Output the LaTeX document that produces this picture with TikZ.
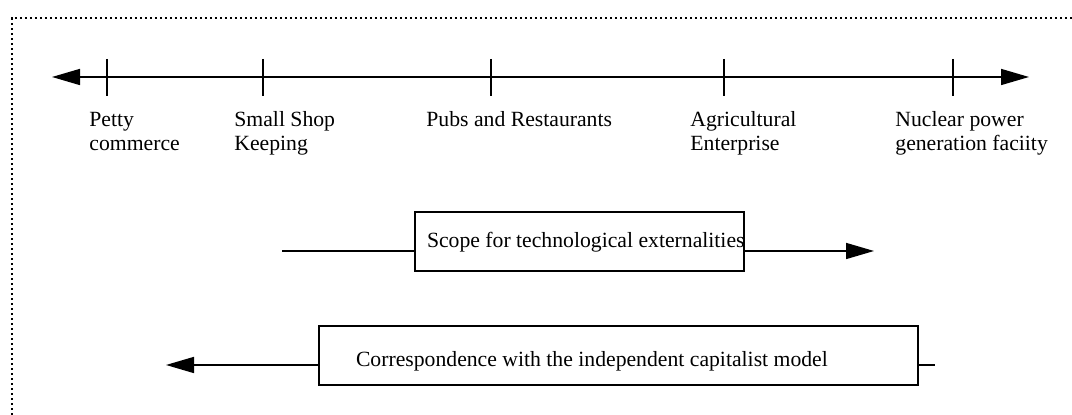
\documentclass[tikz,border=0pt]{standalone}
\usepackage{fontspec}
\setmainfont{Liberation Serif}
\usetikzlibrary{arrows.meta}
\begin{document}
\begin{tikzpicture}[x=0.5pt,y=-0.5pt,
  every node/.style={font=\fontsize{10.85}{12}\selectfont},
  lbl/.style={inner sep=0pt,anchor=base west,align=left},
  boxed/.style={draw,line width=1pt,anchor=north west,inner ysep=0pt},
  head/.style={-{Triangle[length=14pt,width=8pt]}},
  thinline/.style={line width=0.8pt},
  tick/.style={line width=1pt},
  frame/.style={line width=1.1pt,dash pattern=on 1.1pt off 1.4pt}]
\useasboundingbox (0,0) rectangle (1072,415);
\clip (0,0) rectangle (1072,415);
% dotted frame (only top and left visible)
\coordinate (fTL) at (12,18);
\coordinate (fTR) at (1080,18);
\coordinate (fBL) at (12,420);
\draw[frame] (fBL) -- (fTL) -- (fTR);
% axis
\coordinate (aL) at (52,77);
\coordinate (aR) at (1029,77);
\draw[thinline,{Triangle[length=14pt,width=8pt]}-{Triangle[length=14pt,width=8pt]}] (aL) -- (aR);
\foreach \x/\n in {107/1,263/2,491/3,724/4,953/5}{
  \coordinate (t\n a) at (\x,59);
  \coordinate (t\n b) at (\x,96);
  \draw[tick] (t\n a) -- (t\n b);
}
% labels (multi-line nodes: base = baseline of last line)
\node[lbl] (petty) at (89,151) {Petty\\commerce};
\node[lbl] (shop) at (234,151) {Small Shop\\Keeping};
\node[lbl] (pubs) at (426,127) {Pubs and Restaurants};
\node[lbl] (agri) at (690,151) {Agricultural\\Enterprise};
\node[lbl] (nuc) at (895,151) {Nuclear power\\generation faciity};
% scope box
\node[boxed,inner xsep=6pt,text height=18pt,text depth=11.5pt] (scope) at (414,211)
  {\makebox[152.5pt][l]{Scope for technological externalities}};
\coordinate (sA) at (282,251);
\coordinate (sB) at (874,251);
\draw[thinline] (sA) -- (sA -| scope.west);
\draw[thinline,head] (sA -| scope.east) -- (sB);
% correspondence box
\node[boxed,inner xsep=18.5pt,text height=20.5pt,text depth=9pt] (corr) at (318,325)
  {\makebox[262.5pt][l]{Correspondence with the independent capitalist model}};
\coordinate (cA) at (166,365);
\coordinate (cB) at (935,365);
\draw[thinline,head] (cA -| corr.west) -- (cA);
\draw[line width=1.1pt] (cB -| corr.east) -- (cB);
\end{tikzpicture}
\end{document}
